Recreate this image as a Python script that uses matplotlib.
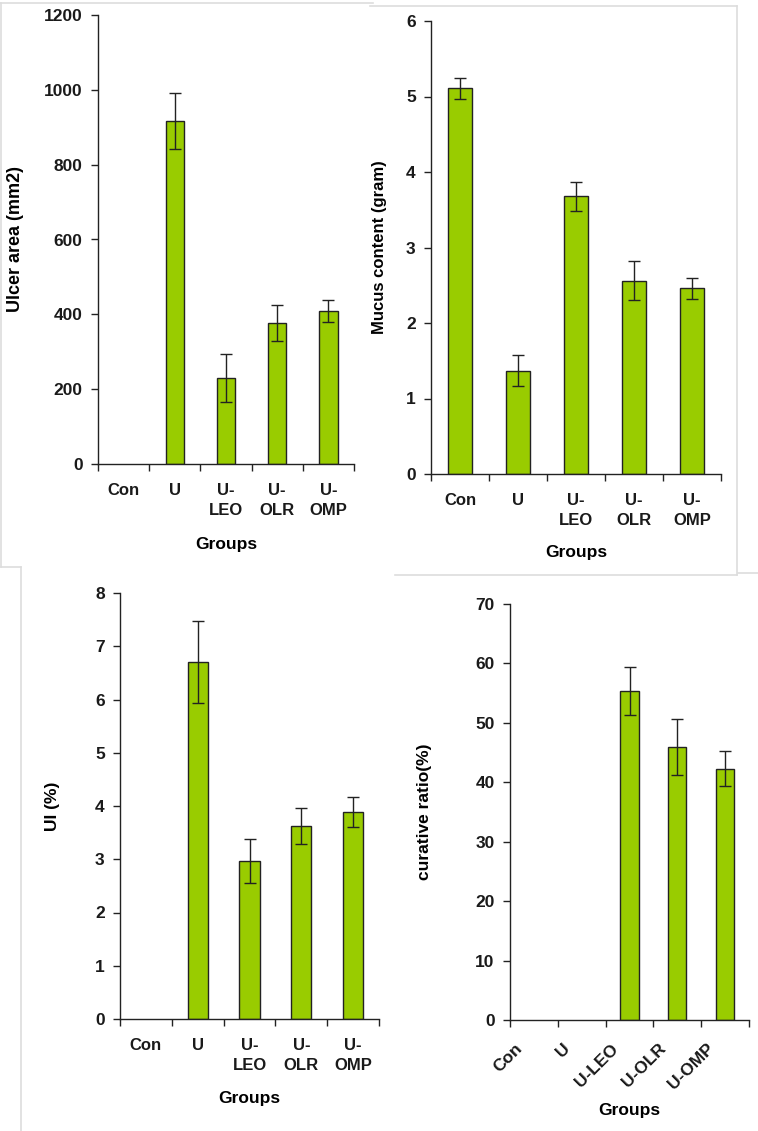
import matplotlib.pyplot as plt
from matplotlib.lines import Line2D
from matplotlib.transforms import ScaledTranslation
import numpy as np

plt.rcParams['font.family'] = ['Liberation Sans', 'DejaVu Sans']
plt.rcParams['font.weight'] = 'bold'

W, H = 758, 1131
BAR_COLOR = '#99CC00'

groups = ['Con', 'U', 'U-LEO', 'U-OLR', 'U-OMP']
groups_wrapped = ['Con', 'U', 'U-\nLEO', 'U-\nOLR', 'U-\nOMP']

ulcer_area = [0, 917, 230, 377, 409]
ulcer_area_err = [0, 75, 64, 48, 29]

mucus = [5.11, 1.37, 3.68, 2.56, 2.46]
mucus_err = [0.14, 0.21, 0.19, 0.26, 0.14]

ui = [0, 6.70, 2.97, 3.62, 3.89]
ui_err = [0, 0.77, 0.41, 0.34, 0.28]

curative = [0, 0, 55.4, 46.0, 42.3]
curative_err = [0, 0, 4.0, 4.7, 2.9]


def px_axes(fig, left, top, right, bottom):
    return fig.add_axes([left / W, 1 - bottom / H, (right - left) / W, (bottom - top) / H])


def bar_panel(ax, vals, errs, width, ymax, ystep, ylabel, ylab_size, ylab_x,
              xlab_y, labels, rotate=False):
    vals = np.array(vals, dtype=float)
    errs = np.array(errs, dtype=float)
    x = np.arange(len(vals)) + 0.5
    m = vals > 0
    ax.bar(x[m], vals[m], width=width, color=BAR_COLOR, edgecolor='#222222',
           linewidth=1.0, zorder=2)
    ax.errorbar(x[m], vals[m], yerr=errs[m], fmt='none', ecolor='#222222',
                elinewidth=1.0, capsize=4, capthick=1.0, zorder=3)
    ax.set_xlim(0, len(vals))
    ax.set_ylim(0, ymax)
    ax.set_yticks(np.arange(0, ymax + ystep / 2, ystep))
    ax.set_xticks(np.arange(len(vals) + 1))
    ax.set_xticklabels([])
    ax.set_xticks(x, minor=True)
    if rotate:
        ax.set_xticklabels(labels, minor=True, rotation=45, ha='right',
                           va='center', rotation_mode='anchor', fontsize=12.5)
        ax.tick_params(axis='x', which='minor', length=0, pad=19)
        shift = ScaledTranslation(-10 / 72, 0, ax.figure.dpi_scale_trans)
        for t in ax.get_xticklabels(minor=True):
            t.set_transform(t.get_transform() + shift)
    else:
        ax.set_xticklabels(labels, minor=True, fontsize=12, linespacing=1.35)
        ax.tick_params(axis='x', which='minor', length=0, pad=14)
    ax.tick_params(axis='x', which='major', direction='out', length=5,
                   width=1, color='#222222')
    ax.tick_params(axis='y', direction='out', length=5, width=1,
                   color='#222222', labelsize=12.5, pad=6)
    for s in ['top', 'right']:
        ax.spines[s].set_visible(False)
    for s in ['left', 'bottom']:
        ax.spines[s].set_color('#222222')
        ax.spines[s].set_linewidth(1.0)
    ax.set_ylabel(ylabel, fontsize=ylab_size, fontweight='bold', va='center')
    ax.yaxis.set_label_coords(ylab_x, 0.5)
    ax.set_xlabel('Groups', fontsize=12.5, fontweight='bold', va='center')
    ax.xaxis.set_label_coords(0.5, xlab_y)
    for t in ax.get_yticklabels() + ax.get_xticklabels(minor=True):
        t.set_fontweight('bold')
        t.set_color('#1a1a1a')


fig = plt.figure(figsize=(W / 100, H / 100), dpi=100)

# light gray panel frames
frame = '#dddddd'
segs = [
    ((0, 3), (373, 3)), ((1, 3), (1, 567)), ((1, 567), (21, 567)),
    ((21, 567), (21, 1131)),
    ((370, 6), (737, 6)), ((737, 6), (737, 575)), ((395, 575), (737, 575)),
    ((738, 573), (758, 573)),
]
for (x0, y0), (x1, y1) in segs:
    fig.add_artist(Line2D([x0 / W, x1 / W], [1 - y0 / H, 1 - y1 / H],
                          transform=fig.transFigure, color=frame, lw=1.2))

ax1 = px_axes(fig, 98, 15, 354, 464)
bar_panel(ax1, ulcer_area, ulcer_area_err, 0.36, 1200, 200,
          'Ulcer area (mm2)', 13, -0.324, (464 - 544) / 449, groups_wrapped)

ax2 = px_axes(fig, 431, 21, 721, 474)
bar_panel(ax2, mucus, mucus_err, 0.43, 6, 1,
          'Mucus content (gram)', 12, -0.176, (474 - 553) / 453, groups_wrapped)

ax3 = px_axes(fig, 120, 593, 379, 1019)
bar_panel(ax3, ui, ui_err, 0.39, 8, 1,
          'UI (%)', 12.5, -0.259, (1019 - 1099) / 426, groups_wrapped)

ax4 = px_axes(fig, 510, 604, 749, 1020)
bar_panel(ax4, curative, curative_err, 0.38, 70, 10,
          'curative ratio(%)', 12.5, -0.356, (1020 - 1110) / 416, groups,
          rotate=True)

fig.savefig('out.png', dpi=100)
